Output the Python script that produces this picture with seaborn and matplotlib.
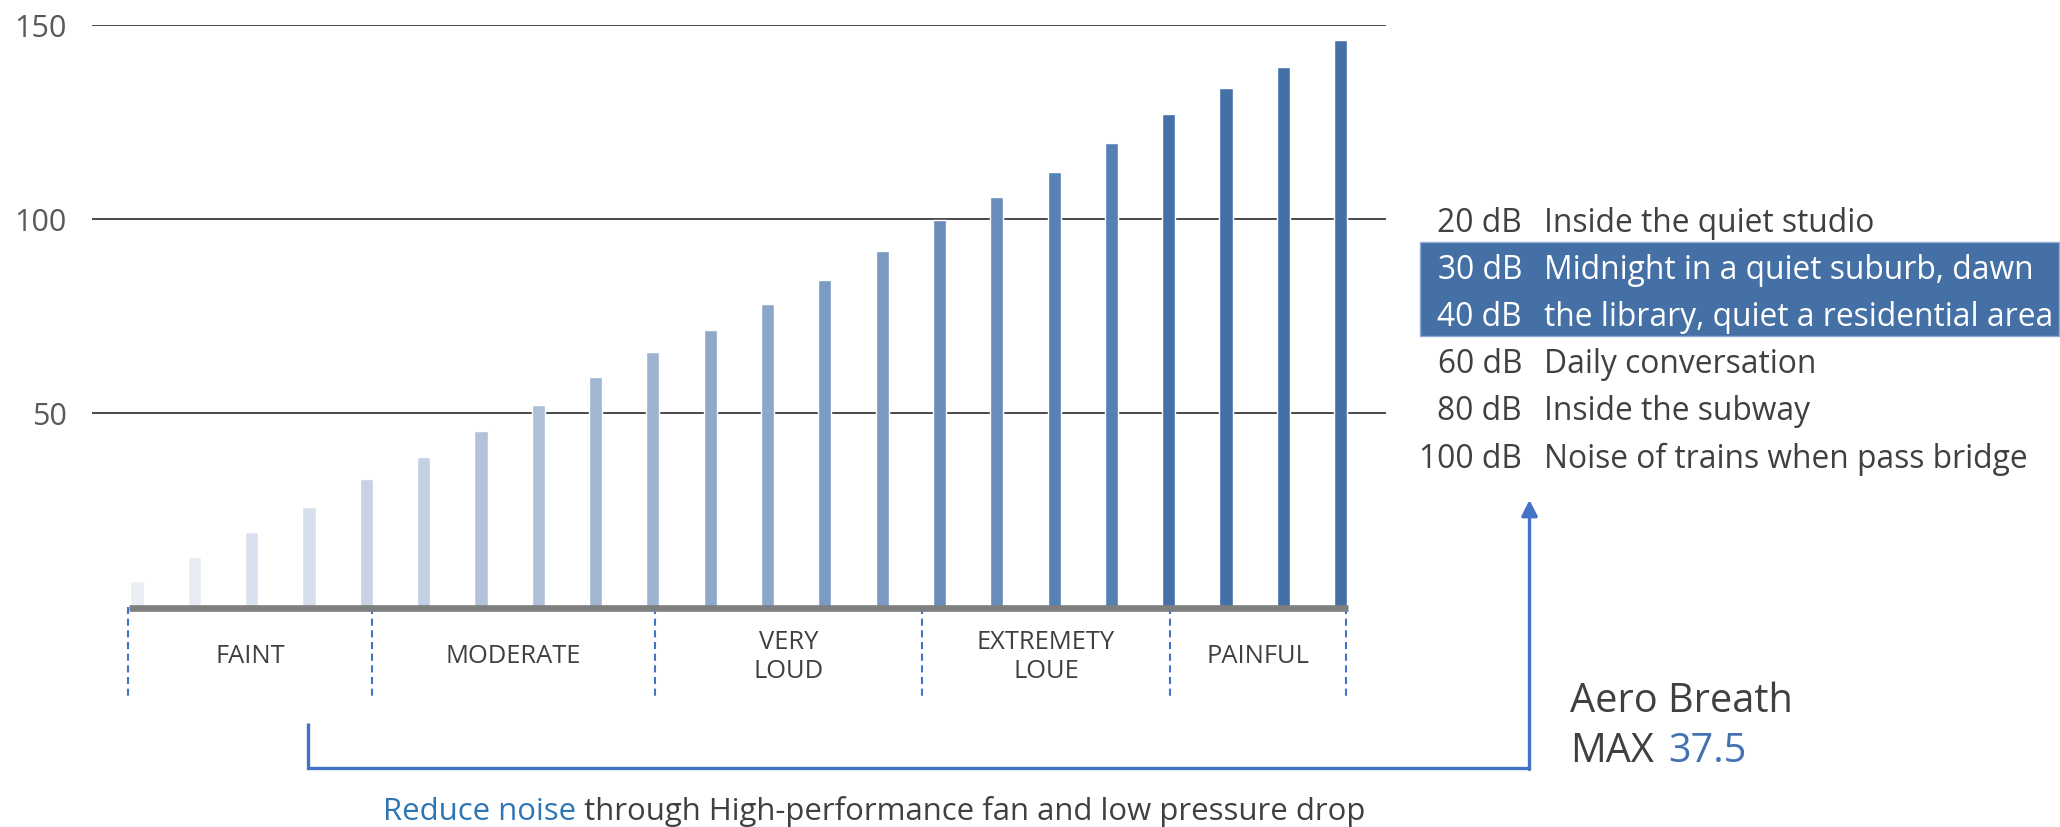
import matplotlib
matplotlib.use("Agg")
import matplotlib.pyplot as plt
import seaborn as sns
import pandas as pd
from matplotlib.patches import Rectangle

# ---------------- data ----------------
categories = [str(i) for i in range(1, 23)]
values = [6.7, 13.0, 19.3, 25.8, 33.1, 38.7, 45.4, 52.2, 59.4, 65.8, 71.4,
          78.1, 84.4, 91.8, 99.7, 105.7, 112.2, 119.7, 127.1, 133.9, 139.2, 146.2]
bar_colors = ["#ECEEF6", "#E8EBF4", "#DAE1EE", "#D7DFEC", "#C7D2E4", "#C3CFE2",
              "#B2C2DA", "#AEC0D8", "#A1B6D2", "#9EB3D1", "#8FA9CB", "#8BA6C9",
              "#7B9BC3", "#7A9AC2", "#6A8CBA", "#698CB9", "#5780B3", "#5680B2",
              "#4671A8", "#4470A8", "#4470A7", "#4470A6"]
y_ticks = [50, 100, 150]
level_names = ["FAINT", "MODERATE", "VERY\nLOUD", "EXTREMETY\nLOUE", "PAINFUL"]
level_bounds = [-0.15, 4.1, 9.03, 13.7, 18.02, 21.1]
ref_db = ["20 dB", "30 dB", "40 dB", "60 dB", "80 dB", "100 dB"]
ref_desc = ["Inside the quiet studio", "Midnight in a quiet suburb, dawn",
            "the library, quiet a residential area", "Daily conversation",
            "Inside the subway", "Noise of trains when pass bridge"]
highlight_rows = [1, 2]
product_name = "Aero Breath"
product_prefix = "MAX"
product_max = "37.5"
note_blue = "Reduce noise"
note_rest = " through High-performance fan and low pressure drop"

# ---------------- style ----------------
sns.set_theme(style="white")
plt.rcParams["font.family"] = ["Open Sans", "DejaVu Sans"]

TEXT = "#404040"
BLUE_LINE = "#4472C4"
W, H, DPI = 2060, 827, 100

fig = plt.figure(figsize=(W / DPI, H / DPI), dpi=DPI)
fig.patch.set_facecolor("white")

y0_px, y150_px = 607.3, 25.3
ax_left, ax_right = 92.4, 1385.7
ax = fig.add_axes([ax_left / W, 1 - y0_px / H, (ax_right - ax_left) / W, (y0_px - y150_px) / H])

df = pd.DataFrame({"level": categories, "db": values})
sns.barplot(data=df, x="level", y="db", hue="level", order=categories,
            hue_order=categories, palette=bar_colors, saturation=1,
            width=0.23, legend=False, ax=ax, zorder=2)

ax.set_xlim(-0.778, 21.785)
ax.set_ylim(0, 150)
ax.set_yticks(y_ticks)
ax.set_xticks([])
ax.set_xlabel("")
ax.set_ylabel("")
ax.yaxis.grid(True, color="#3C3C3C", lw=1.3)
ax.set_axisbelow(True)
ax.tick_params(axis="y", length=0, pad=18.5, labelsize=22, labelcolor="#595959")
sns.despine(ax=ax, left=True, bottom=True, top=True, right=True)

# thick grey base
ax.plot([-0.14, 21.13], [-0.27, -0.27], color="#7F7F7F", lw=4.8,
        solid_capstyle="butt", clip_on=False, zorder=5)

# dashed separators & level names
for b in level_bounds:
    ax.plot([b, b], [0, -23.45], color=BLUE_LINE, lw=1.5,
            linestyle=(0, (3.4, 2.2)), clip_on=False, zorder=4)
for i, name in enumerate(level_names):
    mid = (level_bounds[i] + level_bounds[i + 1]) / 2
    ax.text(mid, -12.8, name, ha="center", va="center", fontsize=18.4,
            color=TEXT, linespacing=1.2, clip_on=False)

# ---------------- overlay in pixel coords ----------------
ov = fig.add_axes([0, 0, 1, 1])
ov.set_xlim(0, W)
ov.set_ylim(H, 0)
ov.axis("off")

# reference table
ov.add_patch(Rectangle((1420, 242.3), 638.6, 93.4, facecolor="#4470A6",
                       edgecolor="#8EA9D4", lw=1, zorder=1))
for i, (dbv, desc) in enumerate(zip(ref_db, ref_desc)):
    yb = 231.7 + 47.2 * i
    col = "white" if i in highlight_rows else TEXT
    ov.text(1522, yb, dbv, ha="right", va="baseline", fontsize=22.9, color=col, zorder=3)
    ov.text(1544, yb, desc, ha="left", va="baseline", fontsize=22.9, color=col, zorder=3)

# bracket + arrow
ov.plot([308, 308, 1529.5], [723.3, 768.3, 768.3], color=BLUE_LINE, lw=2.4,
        solid_joinstyle="miter", solid_capstyle="butt")
ov.annotate("", xy=(1529.5, 500), xytext=(1529.5, 769.5),
            arrowprops=dict(arrowstyle="-|>,head_length=0.47,head_width=0.24",
                            mutation_scale=20, lw=2.4, color=BLUE_LINE,
                            shrinkA=0, shrinkB=0))

fig.canvas.draw()
renderer = fig.canvas.get_renderer()

# product label
ov.text(1570, 711.7, product_name, ha="left", va="baseline", fontsize=28.6, color=TEXT)
ov.text(1570, 761.7, product_prefix, ha="left", va="baseline", fontsize=28.6, color=TEXT)
ov.text(1668, 761.7, product_max, ha="left", va="baseline", fontsize=28.6, color="#4472B0")

# note below
t_note = ov.text(383, 820, note_blue, ha="left", va="baseline", fontsize=22.4, color="#2E75B6")
bb2 = t_note.get_window_extent(renderer=renderer)
ov.text(bb2.x1, 820, note_rest, ha="left", va="baseline", fontsize=22.4, color=TEXT)

fig.savefig("out.png", dpi=DPI, facecolor="white")
